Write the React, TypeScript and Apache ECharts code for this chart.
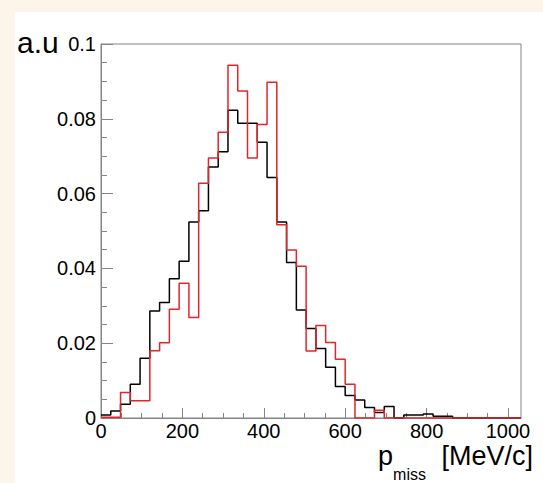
import React, { useEffect, useRef } from "react";
import * as echarts from "echarts";

// Histogram binning (MeV/c)
const BIN_WIDTH = 24;
const X_MIN = 0;
const X_MAX = 1032;
const Y_MIN = 0;
const Y_MAX = 0.1;

// Bin contents (a.u.), one entry per 24 MeV/c bin starting at 0
const blackHist = [
  0.0008, 0.0019, 0.0037, 0.009, 0.016, 0.0286, 0.0309, 0.0372, 0.0419, 0.0524,
  0.0554, 0.0671, 0.0712, 0.0823, 0.0788, 0.0788, 0.0737, 0.0643, 0.0524, 0.0416,
  0.0289, 0.0239, 0.0186, 0.0136, 0.0084, 0.006, 0.0048, 0.0028, 0.0015, 0.0031,
  0, 0.0008, 0.0008, 0.0011, 0.0005, 0.0005, 0, 0, 0, 0,
  0, 0, 0,
];
const redHist = [
  0.0002, 0.0002, 0.0068, 0.0046, 0.0046, 0.018, 0.0201, 0.0291, 0.036, 0.0269,
  0.0628, 0.0695, 0.0764, 0.0943, 0.0874, 0.0695, 0.0785, 0.0898, 0.0517, 0.0449,
  0.0406, 0.0179, 0.0247, 0.0202, 0.0157, 0.009, 0, 0, 0.0021, 0,
  0, 0, 0, 0, 0, 0, 0, 0, 0, 0,
  0, 0, 0,
];

const xTicks = [0, 200, 400, 600, 800, 1000];
const xMinorStep = 50;
const yTicks = [0, 0.02, 0.04, 0.06, 0.08, 0.1];
const yTitle = "a.u";
const xTitleMain = "p";
const xTitleSub = "miss";
const xTitleUnit = "[MeV/c]";

const FONT = '"Liberation Sans", Arial, Helvetica, sans-serif';
const GRAY = "#858585";

function stepPoints(values: number[]) {
  const pts: number[][] = [];
  values.forEach((v, i) => {
    pts.push([X_MIN + i * BIN_WIDTH, v]);
    pts.push([X_MIN + (i + 1) * BIN_WIDTH, v]);
  });
  return pts;
}

export default function App() {
  const ref = useRef<HTMLDivElement>(null);

  useEffect(() => {
    if (!ref.current) return;
    const chart = echarts.init(ref.current, undefined, { renderer: "svg" });

    const minorX: number[] = [];
    for (let v = X_MIN; v <= xTicks[xTicks.length - 1]; v += xMinorStep) {
      if (!xTicks.includes(v)) minorX.push(v);
    }

    const textEl = (
      text: string,
      x: number,
      y: number,
      size: number,
      align: string
    ) => ({
      type: "text",
      x,
      y,
      z: 10,
      style: {
        text,
        fill: "#000",
        font: `${size}px ${FONT}`,
        textAlign: align,
        textVerticalAlign: "middle",
        align,
        verticalAlign: "middle",
      },
    });

    chart.setOption({
      animation: false,
      backgroundColor: "#fdf4ea",
      graphic: [
        {
          type: "rect",
          z: -10,
          shape: { x: 15, y: 12, width: 528, height: 471 },
          style: { fill: "#ffffff" },
        },
        textEl(yTitle, 17, 42, 30, "left"),
        textEl(xTitleUnit, 533, 456, 27, "right"),
        textEl(xTitleSub, 426, 474, 16, "right"),
        textEl(xTitleMain, 393, 456, 27, "right"),
      ],
      grid: {
        left: 101,
        right: 22,
        top: 44,
        bottom: 65,
        show: true,
        borderColor: GRAY,
        borderWidth: 1,
        backgroundColor: "transparent",
      },
      xAxis: [
        {
          type: "value",
          min: X_MIN,
          max: X_MAX,
          interval: 200,
          axisLine: { show: true, lineStyle: { color: GRAY, width: 1 } },
          axisTick: {
            show: true,
            inside: true,
            length: 10,
            customValues: xTicks,
            lineStyle: { color: GRAY },
          },
          axisLabel: {
            show: true,
            customValues: xTicks,
            margin: 3,
            color: "#000",
            fontSize: 20,
            fontFamily: FONT,
            formatter: (v: number) => String(v),
          },
          splitLine: { show: false },
        },
        {
          type: "value",
          min: X_MIN,
          max: X_MAX,
          position: "bottom",
          axisLine: { show: false },
          axisTick: {
            show: true,
            inside: true,
            length: 5,
            customValues: minorX,
            lineStyle: { color: GRAY },
          },
          axisLabel: { show: false },
          splitLine: { show: false },
        },
      ],
      yAxis: {
        type: "value",
        min: Y_MIN,
        max: Y_MAX,
        interval: 0.02,
        axisLine: { show: true, lineStyle: { color: GRAY, width: 1 } },
        axisTick: {
          show: true,
          inside: true,
          length: 12,
          lineStyle: { color: GRAY },
        },
        minorTick: {
          show: true,
          splitNumber: 4,
          length: 6,
          lineStyle: { color: GRAY },
        },
        axisLabel: {
          show: true,
          margin: 5,
          color: "#000",
          fontSize: 20,
          fontFamily: FONT,
          customValues: yTicks,
          formatter: (v: number) => String(Number(v.toFixed(3))),
        },
        splitLine: { show: false },
        minorSplitLine: { show: false },
      },
      series: [
        {
          type: "line",
          xAxisIndex: 0,
          data: stepPoints(blackHist),
          showSymbol: false,
          symbol: "none",
          lineStyle: { color: "#000000", width: 1.5 },
          z: 3,
        },
        {
          type: "line",
          xAxisIndex: 0,
          data: stepPoints(redHist),
          showSymbol: false,
          symbol: "none",
          lineStyle: { color: "#e3242b", width: 1.5 },
          z: 4,
        },
      ],
    });

    return () => chart.dispose();
  }, []);

  return (
    <div
      ref={ref}
      style={{ position: "fixed", left: 0, top: 0, width: 543, height: 483 }}
    />
  );
}
